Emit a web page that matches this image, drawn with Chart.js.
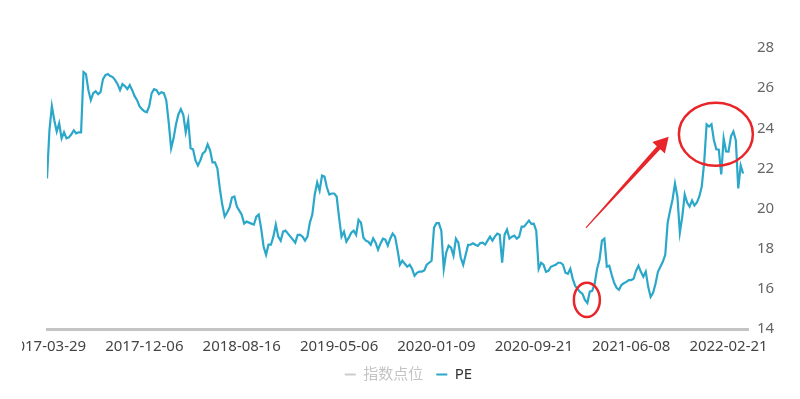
<!DOCTYPE html>
<html>
<head>
<meta charset="utf-8">
<script src="https://cdn.jsdelivr.net/npm/chart.js@4.4.1/dist/chart.umd.min.js"></script>
<style>
    html, body { margin: 0; padding: 0; background: #fff; }
    #wrap { position: absolute; left: 22px; top: 0; width: 778px; height: 399px; }
</style>
</head>
<body>
<div id="wrap"><canvas id="peChart"></canvas></div>
<script>
// x axis: one point per ~4 trading days, a date label every 40 points
const tickLabels = ['2017-03-29', '2017-12-06', '2018-08-16', '2019-05-06', '2020-01-09', '2020-09-21', '2021-06-08', '2022-02-21'];
const tickIndex = [0, 40, 80, 120, 160, 200, 240, 280];
const yTicks = [14, 16, 18, 20, 22, 24, 26, 28];
const seriesNames = ['指数点位', 'PE'];

const peValues = [
    21.5, 23.9, 25.1, 24.4, 23.84, 24.25, 23.5, 23.8, 23.5, 23.55,
    23.7, 23.9, 23.75, 23.8, 23.8, 26.8, 26.7, 25.9, 25.4, 25.75,
    25.84, 25.7, 25.8, 26.45, 26.65, 26.7, 26.6, 26.55, 26.4, 26.2,
    25.9, 26.2, 26.1, 25.95, 26.15, 25.9, 25.6, 25.4, 25.1, 24.95,
    24.85, 24.8, 25.1, 25.75, 25.95, 25.9, 25.7, 25.8, 25.75, 25.4,
    24.3, 23.0, 23.5, 24.2, 24.7, 24.95, 24.67, 23.8, 24.4, 23.0,
    22.95, 22.4, 22.15, 22.4, 22.75, 22.85, 23.2, 22.9, 22.3, 22.3,
    22.0, 21.0, 20.2, 19.6, 19.8, 20.05, 20.55, 20.6, 20.1, 19.9,
    19.7, 19.25, 19.35, 19.3, 19.25, 19.2, 19.6, 19.7, 19.0, 18.1,
    17.7, 18.2, 18.2, 18.6, 19.2, 18.6, 18.4, 18.85, 18.9, 18.75,
    18.6, 18.45, 18.3, 18.69, 18.69, 18.6, 18.4, 18.6, 19.3, 19.7,
    20.7, 21.3, 20.9, 21.65, 21.6, 21.05, 20.7, 20.75, 20.75, 20.6,
    19.55, 18.6, 18.85, 18.35, 18.55, 18.8, 18.9, 18.69, 19.44, 19.3,
    18.55, 18.4, 18.35, 18.2, 18.52, 18.3, 17.95, 18.25, 18.5, 18.45,
    18.15, 18.5, 18.75, 18.6, 17.95, 17.2, 17.4, 17.25, 17.1, 17.2,
    17.0, 16.65, 16.8, 16.86, 16.86, 16.92, 17.2, 17.3, 17.4, 19.05,
    19.27, 19.27, 18.9, 17.0, 17.8, 18.15, 18.05, 17.65, 18.5, 18.3,
    17.55, 17.2, 17.7, 18.19, 18.2, 18.27, 18.2, 18.14, 18.28, 18.3,
    18.2, 18.4, 18.6, 18.4, 18.6, 18.75, 18.7, 17.3, 18.7, 18.95,
    18.5, 18.6, 18.65, 18.5, 18.6, 19.1, 19.1, 19.25, 19.4, 19.24,
    19.25, 18.9, 17.0, 17.3, 17.2, 16.85, 16.9, 17.1, 17.15, 17.2,
    17.3, 17.3, 17.2, 16.8, 16.75, 17.0, 16.5, 16.15, 16.0, 15.85,
    15.75, 15.45, 15.3, 15.86, 15.9, 16.25, 17.0, 17.45, 18.4, 18.5,
    17.1, 17.15, 16.7, 16.3, 16.05, 15.95, 16.19, 16.28, 16.35, 16.44,
    16.44, 16.5, 16.9, 17.15, 16.85, 16.6, 16.86, 16.1, 15.6, 15.8,
    16.25, 16.85, 17.1, 17.35, 17.7, 19.3, 19.9, 20.45, 21.25, 20.6,
    18.8, 19.6, 20.7, 20.3, 20.1, 20.4, 20.15, 20.3, 20.6, 21.1,
    22.3, 24.2, 24.09, 24.2, 23.4, 22.95, 22.93, 21.7, 23.5, 22.85,
    22.84, 23.6, 23.84, 23.4, 21.0, 22.15, 21.75
];
const indexValues = []; // 指数点位 is switched off in the legend

// red hand-drawn marks, in chart units (point index, PE)
const circleMarks = [
    { x: 221.8, y: 15.45, rx: 5.34, ry: 0.85 },
    { x: 274.8, y: 23.7, rx: 15.2, ry: 1.57 }
];
const arrowMark = { from: [221.4, 19.04], to: [255.4, 23.58] };

const FONT = "'Noto Sans', 'Noto Sans CJK SC', sans-serif";
const RED = '#e8262a';
const LINE = '#2aa7c9';

const markupPlugin = {
    id: 'markup',
    afterLayout(chart) {
        // legend sits a little left of centre in the original
        chart.legend.left -= 15;
        chart.legend.right -= 15;
    },
    afterDatasetsDraw(chart) {
        const { ctx, scales: { x, y } } = chart;
        ctx.save();
        ctx.strokeStyle = RED;
        ctx.fillStyle = RED;
        ctx.lineWidth = 2.5;
        circleMarks.forEach(c => {
            const cx = x.getPixelForValue(c.x);
            const cy = y.getPixelForValue(c.y);
            const rx = Math.abs(x.getPixelForValue(c.x + c.rx) - cx);
            const ry = Math.abs(y.getPixelForValue(c.y + c.ry) - cy);
            ctx.beginPath();
            ctx.ellipse(cx, cy, rx, ry, 0, 0, Math.PI * 2);
            ctx.stroke();
        });

        // tapered arrow
        const x0 = x.getPixelForValue(arrowMark.from[0]), y0 = y.getPixelForValue(arrowMark.from[1]);
        const x1 = x.getPixelForValue(arrowMark.to[0]), y1 = y.getPixelForValue(arrowMark.to[1]);
        const len = Math.hypot(x1 - x0, y1 - y0);
        const ux = (x1 - x0) / len, uy = (y1 - y0) / len;
        const px = -uy, py = ux;
        const headLen = 15, headHalf = 8.5, neck = 2.3;
        const bx = x1 - ux * headLen, by = y1 - uy * headLen;
        ctx.beginPath();
        ctx.moveTo(x0 + px * 0.5, y0 + py * 0.5);
        ctx.lineTo(bx + px * neck, by + py * neck);
        ctx.lineTo(bx + px * headHalf, by + py * headHalf);
        ctx.lineTo(x1, y1);
        ctx.lineTo(bx - px * headHalf, by - py * headHalf);
        ctx.lineTo(bx - px * neck, by - py * neck);
        ctx.lineTo(x0 - px * 0.5, y0 - py * 0.5);
        ctx.closePath();
        ctx.fill();
        ctx.restore();
    }
};

const ctx = document.getElementById('peChart').getContext('2d');
const peChart = new Chart(ctx, {
    type: 'line',
    data: {
        datasets: [{
            label: seriesNames[0],
            data: indexValues.map((v, i) => ({ x: i, y: v })),
            borderColor: '#ccc',
            hidden: true
        }, {
            label: seriesNames[1],
            data: peValues.map((v, i) => ({ x: i, y: v })),
            borderColor: LINE,
            borderWidth: 2.2,
            pointRadius: 0,
            tension: 0
        }]
    },
    options: {
        responsive: true,
        maintainAspectRatio: false,
        animation: false,
        layout: { padding: { left: 25, top: 48, right: 0, bottom: 7 } },
        scales: {
            x: {
                type: 'linear',
                min: 0,
                max: 288,
                grid: { display: false, drawTicks: false },
                border: { display: true, color: '#c4c4c4', width: 3 },
                afterBuildTicks: scale => {
                    scale.ticks = tickIndex.map(v => ({ value: v }));
                },
                afterFit: scale => {
                    scale.paddingLeft = 0;
                    scale.paddingRight = 0;
                    scale.height = 25;
                },
                ticks: {
                    autoSkip: false,
                    maxRotation: 0,
                    padding: 9,
                    color: '#444',
                    font: { family: FONT, size: 15 },
                    callback: value => tickLabels[tickIndex.indexOf(value)]
                }
            },
            y: {
                position: 'right',
                min: 14,
                max: 28,
                grid: { display: false, drawTicks: false },
                border: { display: false },
                afterBuildTicks: scale => {
                    scale.ticks = yTicks.map(v => ({ value: v }));
                },
                afterFit: scale => {
                    scale.width = 52;
                },
                ticks: {
                    padding: 9,
                    color: '#666',
                    font: { family: FONT, size: 15 }
                }
            }
        },
        plugins: {
            legend: {
                position: 'bottom',
                labels: {
                    usePointStyle: true,
                    pointStyle: 'line',
                    pointStyleWidth: 11,
                    boxWidth: 11,
                    boxHeight: 11,
                    padding: 13,
                    font: { family: FONT, size: 15 },
                    generateLabels: chart => chart.data.datasets.map((ds, i) => ({
                        text: ds.label,
                        fillStyle: ds.hidden ? '#ccc' : ds.borderColor,
                        strokeStyle: ds.hidden ? '#ccc' : ds.borderColor,
                        fontColor: ds.hidden ? '#c4c4c4' : '#333',
                        lineWidth: 2,
                        pointStyle: 'line',
                        hidden: false,
                        datasetIndex: i
                    }))
                }
            },
            tooltip: { enabled: false }
        }
    },
    plugins: [markupPlugin]
});
</script>
</body>
</html>
